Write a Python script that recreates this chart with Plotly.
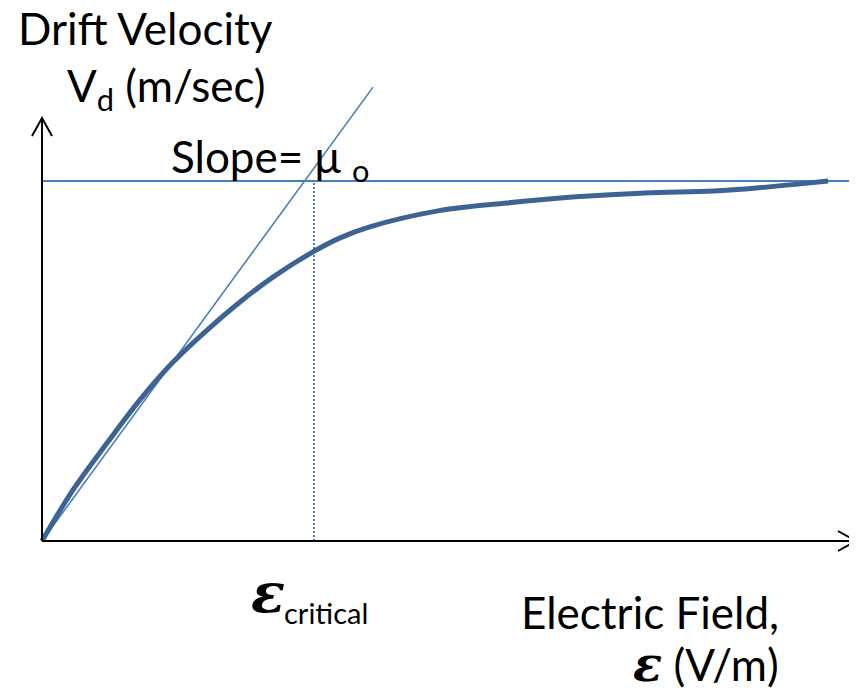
import plotly.graph_objects as go

# ---- data (E in units of E_critical, v in units of v_sat) ----
field_E = [0, 0.114, 0.239, 0.360, 0.482, 0.607, 0.728, 0.849, 0.996, 1.096,
           1.202, 1.456, 1.710, 1.963, 2.217, 2.471, 2.662, 2.787, 2.890]
drift_v = [0, 0.142, 0.272, 0.392, 0.497, 0.586, 0.664, 0.733, 0.803, 0.842,
           0.872, 0.917, 0.939, 0.956, 0.967, 0.972, 0.983, 0.992, 1.000]
mobility_mu0 = 1.036          # slope of the low-field tangent
tangent_E = [0, 1.217]
E_critical = 1.0
v_sat = 1.0

# ---- geometry (page pixels; the page body has an 8px margin) ----
OFF = 8
W, H = 857 - OFF, 693 - OFF
X0PX, Y0PX = 42, 541          # origin in page pixels
SX, SY = 272.0, 360.0          # px per unit

def px2x(px):
    return (px - X0PX) / SX

def py2y(py):
    return (Y0PX - py) / SY

xr = [px2x(OFF), px2x(OFF + W)]
yr = [py2y(OFF + H), py2y(OFF)]

LINE = "#4a7ebb"
CURVE = "#3c6394"

fig = go.Figure()
# saturation line
fig.add_trace(go.Scatter(x=[0, px2x(857)], y=[v_sat, v_sat], mode="lines",
                         line=dict(color=LINE, width=2), hoverinfo="skip"))
# tangent
fig.add_trace(go.Scatter(x=tangent_E, y=[mobility_mu0 * e for e in tangent_E],
                         mode="lines", line=dict(color=LINE, width=1.6), hoverinfo="skip"))
# critical field dotted line
fig.add_trace(go.Scatter(x=[E_critical, E_critical], y=[0, v_sat], mode="lines",
                         line=dict(color=LINE, width=2, dash="2px,2px"), hoverinfo="skip"))
# drift velocity curve
fig.add_trace(go.Scatter(x=field_E, y=drift_v, mode="lines",
                         line=dict(color=CURVE, width=5, shape="spline"), hoverinfo="skip"))

# axes with open arrowheads
ax_col = "black"
shapes = [
    dict(type="line", xref="x", yref="y", x0=0, y0=0, x1=px2x(855), y1=0,
         line=dict(color=ax_col, width=2)),
    dict(type="line", xref="x", yref="y", x0=0, y0=0, x1=0, y1=py2y(119),
         line=dict(color=ax_col, width=2)),
    dict(type="path", xref="x", yref="y",
         path=f"M {px2x(838)},{py2y(531)} L {px2x(856)},{py2y(541)} L {px2x(838)},{py2y(551)}",
         line=dict(color=ax_col, width=2)),
    dict(type="path", xref="x", yref="y",
         path=f"M {px2x(32)},{py2y(136)} L {px2x(42)},{py2y(118)} L {px2x(52)},{py2y(136)}",
         line=dict(color=ax_col, width=2)),
]

FONT = "Lato, Open Sans, sans-serif"
FS = 44

def ann(text, px, py, xanchor="left", size=FS, family=FONT):
    return dict(text=text, x=px2x(px), y=py2y(py), xref="x", yref="y",
                showarrow=False, xanchor=xanchor, yanchor="middle", borderpad=0,
                font=dict(family=family, size=size, color="black"))

annotations = [
    ann("Drift Velocity", 17, 28),
    ann("V<sub>d</sub> (m/sec)", 66, 88),
    ann("Slope= μ <sub>o</sub>", 170, 159),
    ann("<b><i>ε</i></b>", 250, 592, size=56, family="DejaVu Serif, serif"),
    ann("critical", 283, 612, size=29),
    ann("Electric Field,", 520, 612),
    ann("<b><i><span style='font-family:DejaVu Serif;font-size:48px'>ε</span></i></b> (V/m)",
        780, 664, xanchor="right"),
]

fig.update_layout(
    width=W, height=H,
    margin=dict(l=0, r=0, t=0, b=0),
    plot_bgcolor="white", paper_bgcolor="white",
    showlegend=False,
    xaxis=dict(range=xr, visible=False, fixedrange=True),
    yaxis=dict(range=yr, visible=False, fixedrange=True),
    shapes=shapes, annotations=annotations,
)

fig.write_html("out.html")
